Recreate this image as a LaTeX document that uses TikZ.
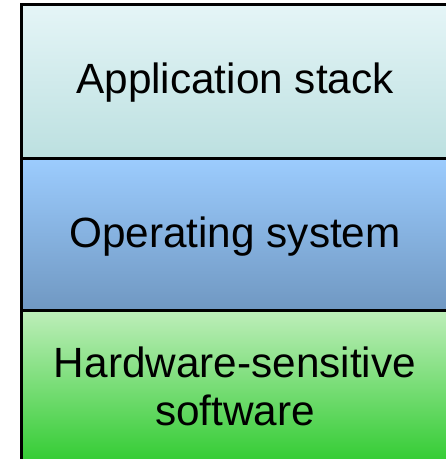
\documentclass[tikz,border=0pt]{standalone}
\usepackage{fontspec}
\setmainfont{Liberation Sans}
\definecolor{aTop}{HTML}{E5F5F7}
\definecolor{aBot}{HTML}{BCE0E0}
\definecolor{oTop}{HTML}{9CCCFE}
\definecolor{oBot}{HTML}{7098C2}
\definecolor{hTop}{HTML}{BEEEBA}
\definecolor{hBot}{HTML}{33CC33}
\begin{document}
\begin{tikzpicture}[x=1pt,y=1pt,
  layer/.style={draw=black,line width=3pt},
  lbl/.style={font=\fontsize{42.3}{48}\selectfont,align=center,text=black}]
\useasboundingbox (0,0) rectangle (446,-459);
\clip (0,0) rectangle (446,-459);
\fill[white] (0,0) rectangle (446,-459);
\path[layer,top color=aTop,bottom color=aBot] (21,-4) rectangle (449,-158);
\path[layer,top color=oTop,bottom color=oBot] (21,-158) rectangle (449,-310);
\path[layer,top color=hTop,bottom color=hBot] (21,-310) rectangle (449,-462);
\node[lbl] (app) at (235,-83) {Application stack};
\node[lbl] (os) at (235,-237) {Operating system};
\node[lbl] (hw) at (235,-386) {Hardware-sensitive\\software};
\end{tikzpicture}
\end{document}
